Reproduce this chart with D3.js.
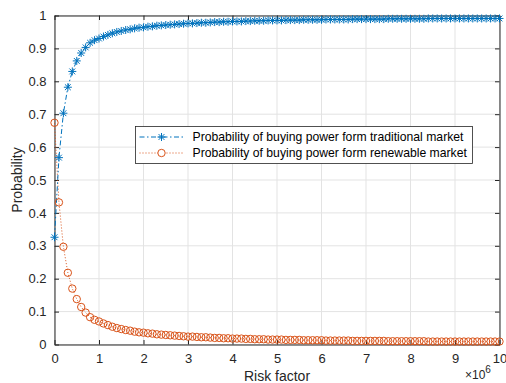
<!DOCTYPE html>
<html>
<head>
<meta charset="utf-8">
<script src="https://cdn.jsdelivr.net/npm/d3@7"></script>
<style>
  body { margin: 0; background: #fff; }
  svg { font-family: "Liberation Sans", Arial, Helvetica, sans-serif; }
  .grid line { stroke: #e3e3e3; stroke-width: 1; }
  .axis path, .axis line { stroke: #262626; }
  .axis text { fill: #262626; font-size: 13px; }
</style>
</head>
<body>
<div id="chart"></div>
<script>
// risk factor, in units of 10^6
var riskFactor = [0,0.1,0.2,0.3,0.4,0.5,0.6,0.7,0.8,0.9,
  1,1.1,1.2,1.3,1.4,1.5,1.6,1.7,1.8,1.9,
  2,2.1,2.2,2.3,2.4,2.5,2.6,2.7,2.8,2.9,
  3,3.1,3.2,3.3,3.4,3.5,3.6,3.7,3.8,3.9,
  4,4.1,4.2,4.3,4.4,4.5,4.6,4.7,4.8,4.9,
  5,5.1,5.2,5.3,5.4,5.5,5.6,5.7,5.8,5.9,
  6,6.1,6.2,6.3,6.4,6.5,6.6,6.7,6.8,6.9,
  7,7.1,7.2,7.3,7.4,7.5,7.6,7.7,7.8,7.9,
  8,8.1,8.2,8.3,8.4,8.5,8.6,8.7,8.8,8.9,
  9,9.1,9.2,9.3,9.4,9.5,9.6,9.7,9.8,9.9,10];

var traditional = [.326,.568,.703,.782,.830,.862,.886,.903,.917,.925,
  .930,.936,.941,.946,.950,.953,.956,.958,.961,.963,
  .964,.966,.967,.969,.970,.971,.972,.973,.974,.975,
  .976,.976,.977,.978,.978,.979,.980,.980,.981,.981,
  .982,.982,.982,.983,.983,.984,.984,.984,.985,.985,
  .985,.985,.986,.986,.986,.986,.987,.987,.987,.987,
  .987,.988,.988,.988,.988,.988,.988,.989,.989,.989,
  .989,.989,.989,.989,.989,.990,.990,.990,.990,.990,
  .990,.990,.990,.990,.991,.991,.991,.991,.991,.991,
  .991,.991,.991,.991,.991,.991,.991,.991,.991,.991,.991];

var renewable = [.674,.432,.297,.218,.170,.138,.114,.097,.083,.075,
  .070,.064,.059,.054,.050,.047,.044,.042,.039,.037,
  .036,.034,.033,.031,.030,.029,.028,.027,.026,.025,
  .024,.024,.023,.022,.022,.021,.020,.020,.019,.019,
  .018,.018,.018,.017,.017,.016,.016,.016,.015,.015,
  .015,.015,.014,.014,.014,.014,.013,.013,.013,.013,
  .013,.012,.012,.012,.012,.012,.012,.011,.011,.011,
  .011,.011,.011,.011,.011,.010,.010,.010,.010,.010,
  .010,.010,.010,.010,.009,.009,.009,.009,.009,.009,
  .009,.009,.009,.009,.009,.009,.009,.009,.009,.009,.009];

var xTicks = [0,1,2,3,4,5,6,7,8,9,10];
var yTicks = [0,0.1,0.2,0.3,0.4,0.5,0.6,0.7,0.8,0.9,1];
var seriesNames = ["Probability of buying power form traditional market",
                   "Probability of buying power form renewable market"];

var w = 506, h = 383;
var pLeft = 54.5, pRight = 499.5, pTop = 15.5, pBottom = 344.5;
var blue = "#0072bd", orange = "#d95319";

var xScale = d3.scaleLinear().domain([0, 10]).range([pLeft, pRight]);
var yScale = d3.scaleLinear().domain([0, 1]).range([pBottom, pTop]);

var svg = d3.select("#chart").append("svg")
  .attr("width", w)
  .attr("height", h);

// grid
svg.append("g").attr("class", "grid")
  .selectAll("line").data(xTicks).enter().append("line")
  .attr("x1", function(d) { return xScale(d); })
  .attr("x2", function(d) { return xScale(d); })
  .attr("y1", pTop).attr("y2", pBottom);
svg.append("g").attr("class", "grid")
  .selectAll("line").data(yTicks).enter().append("line")
  .attr("y1", function(d) { return yScale(d); })
  .attr("y2", function(d) { return yScale(d); })
  .attr("x1", pLeft).attr("x2", pRight);

// axes (ticks inward, box on)
svg.append("g").attr("class", "axis")
  .attr("transform", "translate(0," + pBottom + ")")
  .call(d3.axisBottom(xScale).tickValues(xTicks).tickSizeInner(-4.5).tickSizeOuter(0).tickPadding(9));
svg.append("g").attr("class", "axis")
  .attr("transform", "translate(0," + pTop + ")")
  .call(d3.axisTop(xScale).tickValues(xTicks).tickSizeInner(-4.5).tickSizeOuter(0).tickFormat(""));
svg.append("g").attr("class", "axis")
  .attr("transform", "translate(" + pLeft + ",0)")
  .call(d3.axisLeft(yScale).tickValues(yTicks).tickSizeInner(-4.5).tickSizeOuter(0).tickPadding(8)
    .tickFormat(function(d) { return d3.format("~g")(d); }));
svg.append("g").attr("class", "axis")
  .attr("transform", "translate(" + pRight + ",0)")
  .call(d3.axisRight(yScale).tickValues(yTicks).tickSizeInner(-4.5).tickSizeOuter(0).tickFormat(""));

// lines
var line1 = d3.line()
  .x(function(d, i) { return xScale(riskFactor[i]); })
  .y(function(d) { return yScale(d); });

svg.append("path").datum(renewable)
  .attr("fill", "none").attr("stroke", orange).attr("stroke-width", 1)
  .attr("stroke-dasharray", "1,2")
  .attr("d", line1);

svg.append("path").datum(traditional)
  .attr("fill", "none").attr("stroke", blue).attr("stroke-width", 1)
  .attr("stroke-dasharray", "5,2.5,1.5,2.5")
  .attr("d", line1);

// markers
var r = 4, dd = 2.9;
var star = "M" + (-r) + ",0L" + r + ",0M0," + (-r) + "L0," + r +
  "M" + (-dd) + "," + (-dd) + "L" + dd + "," + dd + "M" + (-dd) + "," + dd + "L" + dd + "," + (-dd);

svg.append("g").selectAll("circle").data(renewable).enter().append("circle")
  .attr("cx", function(d, i) { return xScale(riskFactor[i]); })
  .attr("cy", function(d) { return yScale(d); })
  .attr("r", 3.7)
  .attr("fill", "none").attr("stroke", orange).attr("stroke-width", 1);

svg.append("g").selectAll("path").data(traditional).enter().append("path")
  .attr("transform", function(d, i) { return "translate(" + xScale(riskFactor[i]) + "," + yScale(d) + ")"; })
  .attr("d", star)
  .attr("fill", "none").attr("stroke", blue).attr("stroke-width", 1);

// legend
var lg = svg.append("g").attr("transform", "translate(135.5,126.5)");
lg.append("rect").attr("width", 337).attr("height", 37)
  .attr("fill", "#fff").attr("stroke", "#262626").attr("stroke-width", 0.8);

var rows = [
  { name: seriesNames[0], color: blue, dash: "5,2.5,1.5,2.5", mark: "star" },
  { name: seriesNames[1], color: orange, dash: "1,2", mark: "circle" }
];
rows.forEach(function(s, i) {
  var y = 10.5 + i * 16;
  lg.append("line").attr("x1", 4).attr("x2", 48).attr("y1", y).attr("y2", y)
    .attr("stroke", s.color).attr("stroke-dasharray", s.dash);
  if (s.mark == "star") {
    lg.append("path").attr("transform", "translate(26," + y + ")").attr("d", star)
      .attr("fill", "none").attr("stroke", s.color);
  } else {
    lg.append("circle").attr("cx", 26).attr("cy", y).attr("r", 3.7)
      .attr("fill", "#fff").attr("stroke", s.color);
  }
  lg.append("text").attr("x", 57).attr("y", y).attr("dy", "0.35em")
    .attr("font-size", "12.2px").attr("fill", "#000").text(s.name);
});

// axis titles
svg.append("text")
  .attr("x", (pLeft + pRight) / 2).attr("y", 381)
  .attr("text-anchor", "middle").attr("font-size", "14px").attr("fill", "#262626")
  .text("Risk factor");

svg.append("text")
  .attr("transform", "translate(22," + ((pTop + pBottom) / 2) + ") rotate(-90)")
  .attr("text-anchor", "middle").attr("font-size", "14px").attr("fill", "#262626")
  .text("Probability");

var mult = svg.append("text").attr("x", 465).attr("y", 379)
  .attr("font-size", "12px").attr("fill", "#262626");
mult.append("tspan").text("\u00d710");
mult.append("tspan").attr("dy", -6).attr("font-size", "10px").text("6");
</script>
</body>
</html>
